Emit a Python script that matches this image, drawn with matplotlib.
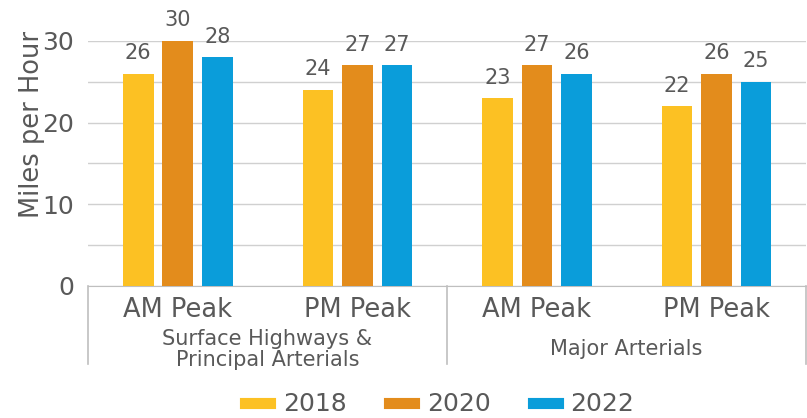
import matplotlib.pyplot as plt
import matplotlib.transforms as mtransforms
from matplotlib.lines import Line2D
import numpy as np

plt.rcParams['font.family'] = ['DejaVu Sans']

# data
periods = ["AM Peak", "PM Peak", "AM Peak", "PM Peak"]
groups = ["Surface Highways &\nPrincipal Arterials", "Major Arterials"]
years = ["2018", "2020", "2022"]
speed_2018 = [26, 24, 23, 22]
speed_2020 = [30, 27, 27, 26]
speed_2022 = [28, 27, 26, 25]
colors = ["#FCC123", "#E38C1C", "#0A9DDA"]
text_col = "#595959"
line_col = "#BFBFBF"

fig = plt.figure(figsize=(8.07, 4.18), dpi=100)
ax = fig.add_axes([0.109, 0.316, 0.89, 0.586])

x = np.arange(len(periods))
width = 0.17
step = 0.22
for i, vals in enumerate([speed_2018, speed_2020, speed_2022]):
    pos = x + (i - 1) * step
    ax.bar(pos, vals, width, color=colors[i], zorder=3)
    for px, v in zip(pos, vals):
        ax.text(px, v + 1.3, str(v), ha="center", va="bottom",
                fontsize=15, color=text_col, clip_on=False)

ax.set_xlim(-0.5, len(periods) - 0.5)
ax.set_ylim(0, 30)
ax.set_yticks([0, 10, 20, 30])
ax.set_yticks([5, 15, 25], minor=True)
ax.tick_params(axis="y", which="both", length=0, labelsize=18,
               labelcolor=text_col, pad=10)
ax.set_xticks([])
ax.grid(axis="y", which="both", color="#D0D0D0", linewidth=1, zorder=0)
for s in ["top", "right", "left"]:
    ax.spines[s].set_visible(False)
ax.spines["bottom"].set_color(line_col)
ax.set_ylabel("Miles per Hour", fontsize=18.5, color=text_col)
ax.yaxis.set_label_coords(-0.06, 0.66)

# multi-level category axis
trans = mtransforms.blended_transform_factory(ax.transData, ax.transAxes)
for xi, p in zip(x, periods):
    ax.text(xi, -0.045, p, transform=trans, ha="center", va="top",
            fontsize=18.5, color=text_col)
for sep in [-0.5, 1.5, 3.5]:
    ax.plot([sep, sep], [0, -0.32], transform=trans, color=line_col,
            linewidth=1.2, clip_on=False)
ax.text(0.5, -0.175, groups[0], transform=trans, ha="center", va="top",
        fontsize=15, color=text_col, linespacing=1.05)
ax.text(2.5, -0.215, groups[1], transform=trans, ha="center", va="top",
        fontsize=15, color=text_col)

handles = [Line2D([0], [0], color=c, linewidth=8) for c in colors]
fig.legend(handles, years, loc="lower center", ncol=3, frameon=False,
           fontsize=18, labelcolor=text_col, handlelength=1.0,
           handletextpad=0.5, columnspacing=1.7,
           bbox_to_anchor=(0.545, -0.05))

fig.savefig("out.png", dpi=100)
